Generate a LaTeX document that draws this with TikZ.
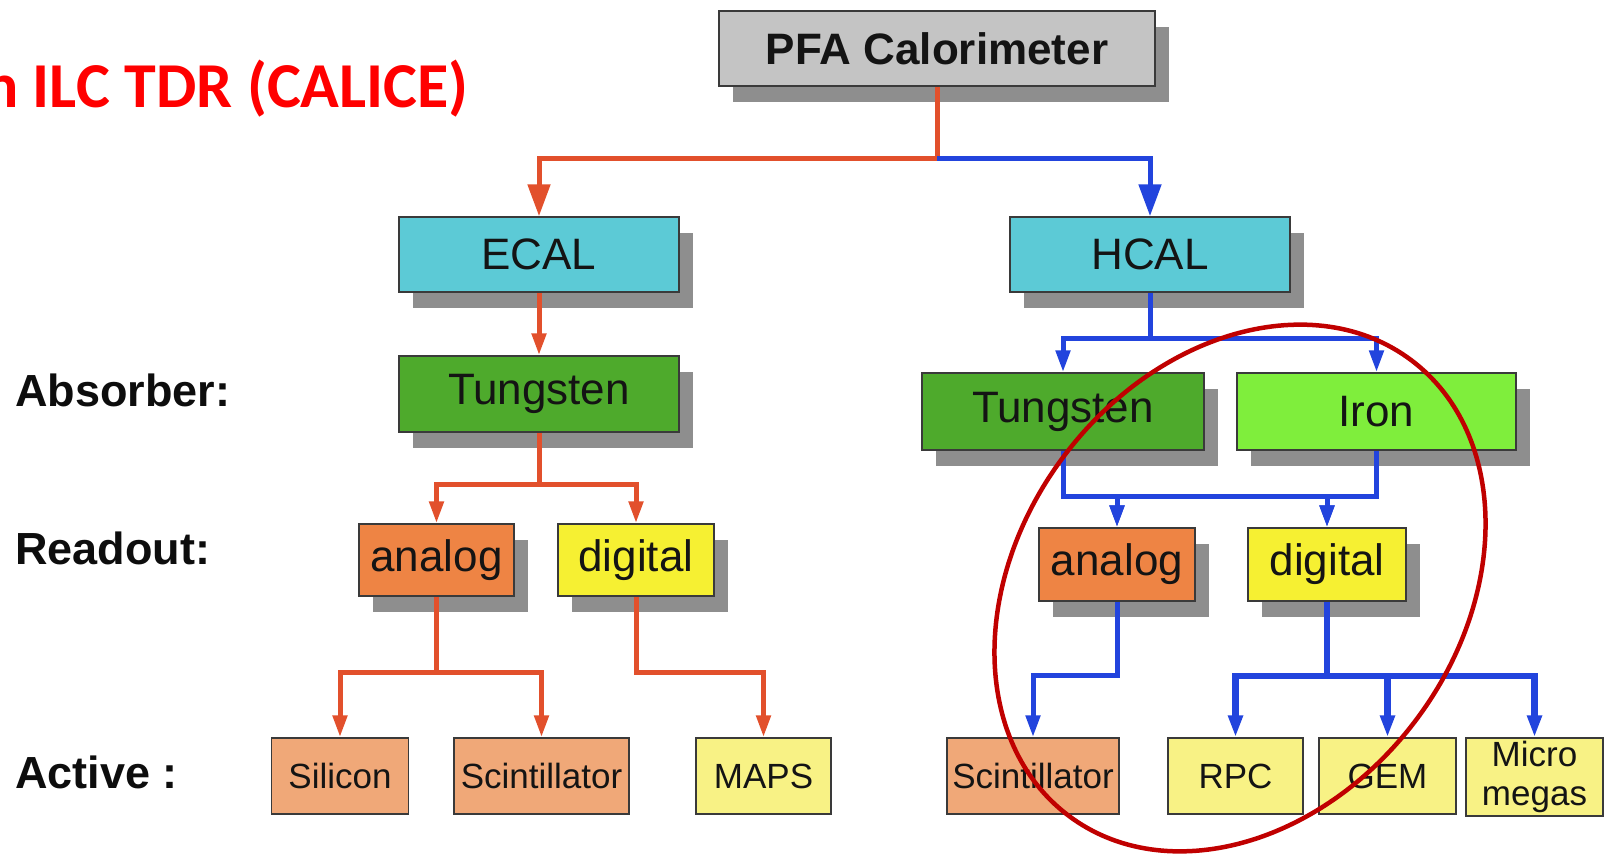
\documentclass[tikz,border=0pt]{standalone}
\usepackage{fontspec}
\setmainfont{Liberation Sans}
\newfontfamily\titlefont{Carlito}
\usetikzlibrary{arrows.meta,shadows}

\definecolor{pfagray}{HTML}{C4C4C4}
\definecolor{calcyan}{HTML}{5CCAD6}
\definecolor{wgreen}{HTML}{4EAA2C}
\definecolor{fegreen}{HTML}{7FEE3C}
\definecolor{anorange}{HTML}{EE8444}
\definecolor{digyellow}{HTML}{F6F032}
\definecolor{actorange}{HTML}{F0A878}
\definecolor{actyellow}{HTML}{F8F285}
\definecolor{shadowgray}{HTML}{8E8E8E}
\definecolor{linered}{HTML}{E2502C}
\definecolor{lineblue}{HTML}{2244DD}
\definecolor{ellred}{HTML}{C00000}
\definecolor{titlered}{HTML}{FF0000}
\definecolor{boxborder}{HTML}{3A3A3A}

\tikzset{
  box/.style={draw=boxborder, line width=1.5pt, inner sep=0pt, text=black!92,
    font=\fontsize{44}{50}\selectfont},
  shad/.style={drop shadow={shadow xshift=14pt, shadow yshift=-16pt, fill=shadowgray, opacity=1}},
  bigbox/.style={box, shad, minimum height=75pt},
  readbox/.style={box, shad, minimum height=73pt},
  actbox/.style={box, font=\fontsize{35}{39}\selectfont, minimum height=76pt},
  olink/.style={draw=linered, line width=5pt, line join=miter},
  blink/.style={draw=lineblue, line width=5pt, line join=miter},
  bthick/.style={draw=lineblue, line width=6.5pt, line join=miter},
  btip/.style={-{Triangle[length=32pt,width=22pt]}},
  stip/.style={-{Triangle[length=22pt,width=14pt]}},
  rowlab/.style={anchor=base west, inner sep=0pt, font=\bfseries\fontsize{45}{50}\selectfont, text=black!95},
  titlestyle/.style={anchor=base east, inner sep=0pt, font=\titlefont\bfseries\fontsize{64}{70}\selectfont, text=titlered},
  ringstyle/.style={draw=ellred, line width=4.5pt}
}

\begin{document}
\begin{tikzpicture}[x=1pt,y=-1pt]
\useasboundingbox (0,0) rectangle (1608,856);
\fill[white] (0,0) rectangle (1608,856);

% title and row labels
\node[titlestyle] (title) at (469,108) {n ILC TDR (CALICE)};
\node[rowlab] (absorber) at (15,406) {Absorber:};
\node[rowlab] (readout) at (15,564) {Readout:};
\node[rowlab] (active) at (15,788) {Active :};

% top rows
\node[box, shad, fill=pfagray, minimum width=436pt, minimum height=75pt,
      font=\bfseries\fontsize{44}{48}\selectfont] (pfa) at (937,48.5) {PFA Calorimeter};
\node[bigbox, fill=calcyan, minimum width=280pt] (ecal) at (539,254.5) {ECAL};
\node[bigbox, fill=calcyan, minimum width=280pt] (hcal) at (1150,254.5) {HCAL};

\node[bigbox, fill=wgreen, minimum width=280pt, minimum height=76pt] (tunge) at (539,394) {Tungsten};
\node[bigbox, fill=wgreen, minimum width=282pt, minimum height=77pt] (tungh) at (1063,411.5) {Tungsten};
\node[bigbox, fill=fegreen, minimum width=279pt, minimum height=77pt] (iron) at (1376.5,411.5) {Iron};

\node[readbox, fill=anorange, minimum width=155pt, minimum height=72pt] (ane) at (436.5,560) {analog};
\node[readbox, fill=digyellow, minimum width=156pt, minimum height=72pt] (die) at (636,560) {digital};
\node[readbox, fill=anorange, minimum width=156pt] (anh) at (1117,564.5) {analog};
\node[readbox, fill=digyellow, minimum width=158pt] (dih) at (1327,564.5) {digital};

% active row
\node[actbox, fill=actorange, minimum width=137pt] (sil) at (340,776) {Silicon};
\node[actbox, fill=actorange, minimum width=175pt] (scie) at (541.5,776) {Scintillator};
\node[actbox, fill=actyellow, minimum width=135pt] (maps) at (763.5,776) {MAPS};
\node[actbox, fill=actorange, minimum width=172pt] (scih) at (1033,776) {Scintillator};
\node[actbox, fill=actyellow, minimum width=135pt] (rpc) at (1235.5,776) {RPC};
\node[actbox, fill=actyellow, minimum width=137pt] (gem) at (1387.5,776) {GEM};
\node[actbox, fill=actyellow, minimum width=137pt, minimum height=78pt, align=center] (micro) at (1534.5,777) {Micro\\megas};

% connectors: PFA level
\coordinate (j0) at (937,158);
\draw[olink, btip] (pfa.south) -- (j0) -| (ecal.north);
\draw[blink, btip] (j0) -| (hcal.north);

% ECAL branch
\draw[olink, stip] (ecal.south) -- (tunge.north);
\draw[olink, stip] (tunge.south) -- ++(0,52) -| (ane.north);
\draw[olink, stip] (tunge.south) -- ++(0,52) -| (die.north);
\draw[olink, stip] (ane.south) -- ++(0,76) -| (sil.north);
\draw[olink, stip] (ane.south) -- ++(0,76) -| (scie.north);
\draw[olink, stip] (die.south) -- ++(0,76) -| (maps.north);

% HCAL branch
\draw[blink, stip] (hcal.south) -- ++(0,46) -| (tungh.north);
\draw[blink, stip] (hcal.south) -- ++(0,46) -| (iron.north);
\draw[blink, stip] (tungh.south) -- ++(0,46) -| (anh.north);
\draw[blink, stip] (tungh.south) -- ++(0,46) -| (dih.north);
\draw[blink, stip] (iron.south) -- ++(0,46) -| (anh.north);
\draw[blink, stip] (iron.south) -- ++(0,46) -| (dih.north);
\draw[blink, stip] (anh.south) -- ++(0,74) -| (scih.north);
\draw[bthick, stip] (dih.south) -- ++(0,74) -| (rpc.north);
\draw[bthick, stip] (dih.south) -- ++(0,74) -| (gem.north);
\draw[bthick, stip] (dih.south) -- ++(0,74) -| (micro.north);

% red ring
\begin{scope}[shift={(1240,588)}, rotate=-37]
  \draw[ringstyle] (0,0) ellipse [x radius=220pt, y radius=285pt];
\end{scope}
\end{tikzpicture}
\end{document}
